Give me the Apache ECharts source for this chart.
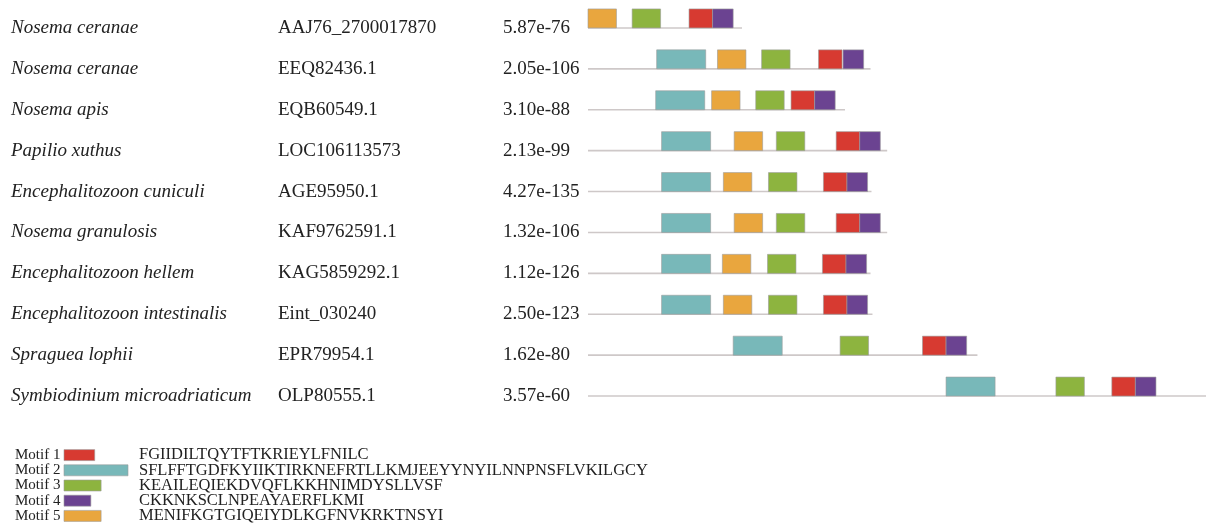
<!DOCTYPE html>
<html>
<head>
<meta charset="utf-8">
<script src="https://cdn.jsdelivr.net/npm/echarts@6/dist/echarts.min.js"></script>
<style>
  html, body { margin: 0; padding: 0; background: #fff; }
  #chart { width: 1206px; height: 527px; }
</style>
</head>
<body>
<div id="chart"></div>
<script>
// sequences, top to bottom
const species = [
  'Nosema ceranae', 'Nosema ceranae', 'Nosema apis', 'Papilio xuthus',
  'Encephalitozoon cuniculi', 'Nosema granulosis', 'Encephalitozoon hellem',
  'Encephalitozoon intestinalis', 'Spraguea lophii', 'Symbiodinium microadriaticum'
]
const accessions = [
  'AAJ76_2700017870', 'EEQ82436.1', 'EQB60549.1', 'LOC106113573', 'AGE95950.1',
  'KAF9762591.1', 'KAG5859292.1', 'Eint_030240', 'EPR79954.1', 'OLP80555.1'
]
const evalues = [
  '5.87e-76', '2.05e-106', '3.10e-88', '2.13e-99', '4.27e-135',
  '1.32e-106', '1.12e-126', '2.50e-123', '1.62e-80', '3.57e-60'
]
const seqLengths = [157, 288, 262, 305, 289, 305, 288, 290, 397, 630]

// motif start positions per sequence (null = motif absent)
const motif1Start = [103, 235, 207, 253, 240, 253, 239, 240, 341, 534]
const motif2Start = [null, 70, 69, 75, 75, 75, 75, 75, 148, 365]
const motif3Start = [45, 177, 171, 192, 184, 192, 183, 184, 257, 477]
const motif4Start = [127, 260, 231, 277, 264, 277, 263, 264, 365, 558]
const motif5Start = [0, 132, 126, 149, 138, 149, 137, 138, null, null]

// legend
const motifNames = ['Motif 1', 'Motif 2', 'Motif 3', 'Motif 4', 'Motif 5']
const motifSeqs = [
  'FGIIDILTQYTFTKRIEYLFNILC',
  'SFLFFTGDFKYIIKTIRKNEFRTLLKMJEEYYNYILNNPNSFLVKILGCY',
  'KEAILEQIEKDVQFLKKHNIMDYSLLVSF',
  'CKKNKSCLNPEAYAERFLKMI',
  'MENIFKGTGIQEIYDLKGFNVKRKTNSYI'
]
const motifLengths = [24, 50, 29, 21, 29]
const motifColors = ['#d73a31', '#78b8b9', '#8db43f', '#6b4391', '#e9a63e']

const motifStarts = [motif1Start, motif2Start, motif3Start, motif4Start, motif5Start]
const motifData = []
motifStarts.forEach((starts, m) => {
  starts.forEach((s, row) => {
    if (s !== null) motifData.push([s, s + motifLengths[m], row, m])
  })
})

const serif = '"Liberation Serif", "Times New Roman", serif'

let chart = echarts.init(document.getElementById('chart'), null, { renderer: 'canvas' })

chart.setOption({
  animation: false,
  grid: [
    { left: 588, top: 7.5, width: 618, height: 409 },
    { left: 64, top: 447.5, width: 64, height: 76 }
  ],
  xAxis: [
    { gridIndex: 0, type: 'value', min: 0, max: 630, show: false },
    { gridIndex: 1, type: 'value', min: 0, max: 50, show: false }
  ],
  yAxis: [
    {
      gridIndex: 0,
      type: 'category',
      inverse: true,
      data: species,
      axisLine: { show: false },
      axisTick: { show: false },
      splitLine: { show: false },
      axisLabel: {
        interval: 0,
        margin: 577,
        align: 'left',
        formatter: (v, i) => `{sp|${species[i]}}{acc|${accessions[i]}}{ev|${evalues[i]}}`,
        rich: {
          sp: { width: 267, fontFamily: serif, fontStyle: 'italic', fontSize: 19, color: '#222' },
          acc: { width: 225, fontFamily: serif, fontSize: 19, color: '#222' },
          ev: { fontFamily: serif, fontSize: 19, color: '#222' }
        }
      }
    },
    {
      gridIndex: 1,
      type: 'category',
      inverse: true,
      data: motifNames,
      axisLine: { show: false },
      axisTick: { show: false },
      axisLabel: {
        interval: 0,
        margin: 49,
        align: 'left',
        fontFamily: serif,
        fontSize: 15,
        color: '#222'
      }
    }
  ],
  series: [
    {
      // backbone line of each sequence
      type: 'custom',
      xAxisIndex: 0,
      yAxisIndex: 0,
      data: seqLengths.map((len, i) => [len, i]),
      renderItem: (params, api) => {
        const a = api.coord([0, api.value(1)])
        const b = api.coord([api.value(0), api.value(1)])
        return {
          type: 'line',
          shape: { x1: a[0], y1: a[1], x2: b[0], y2: b[1] },
          style: { stroke: '#cec8c8', lineWidth: 1.6 }
        }
      },
      z: 1
    },
    {
      // motif boxes
      type: 'custom',
      xAxisIndex: 0,
      yAxisIndex: 0,
      data: motifData,
      encode: { x: [0, 1], y: 2 },
      renderItem: (params, api) => {
        const a = api.coord([api.value(0), api.value(2)])
        const b = api.coord([api.value(1), api.value(2)])
        return {
          type: 'rect',
          shape: { x: a[0], y: a[1] - 19, width: b[0] - a[0], height: 19 },
          style: { fill: motifColors[api.value(3)], stroke: '#9c9c9c', lineWidth: 0.6 }
        }
      },
      z: 2
    },
    {
      // legend boxes + consensus sequences
      type: 'custom',
      xAxisIndex: 1,
      yAxisIndex: 1,
      data: motifLengths.map((len, i) => [len, i]),
      renderItem: (params, api) => {
        const i = api.value(1)
        const a = api.coord([0, i])
        const b = api.coord([api.value(0), i])
        return {
          type: 'group',
          children: [
            {
              type: 'rect',
              shape: { x: a[0], y: a[1] - 5.5, width: b[0] - a[0], height: 11 },
              style: { fill: motifColors[i], stroke: '#9c9c9c', lineWidth: 0.6 }
            },
            {
              type: 'text',
              style: {
                x: a[0] + 75, y: a[1],
                text: motifSeqs[i],
                font: `16.5px ${serif}`,
                fill: '#222',
                verticalAlign: 'middle'
              }
            }
          ]
        }
      }
    }
  ]
})
</script>
</body>
</html>
